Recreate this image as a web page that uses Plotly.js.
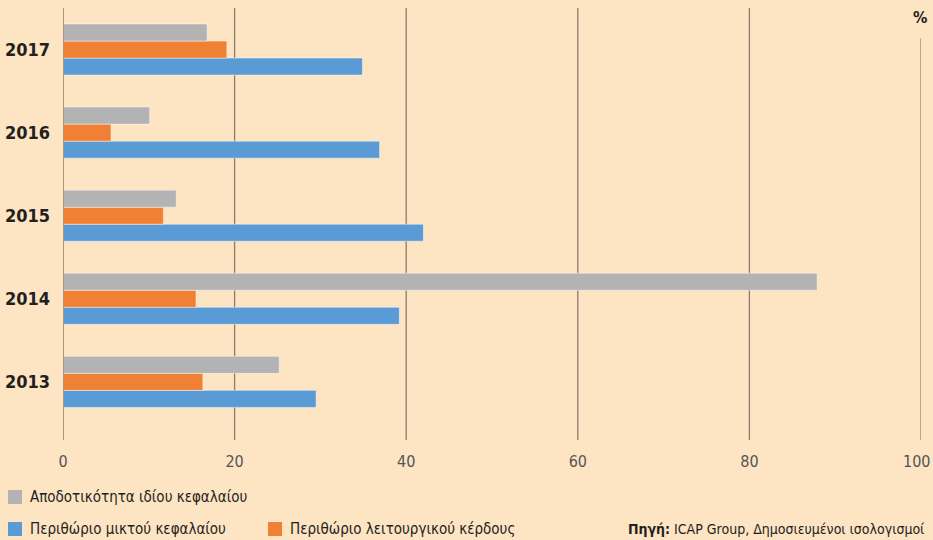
<!DOCTYPE html>
<html>
<head>
<meta charset="utf-8">
<script src="https://cdn.plot.ly/plotly-3.0.1.min.js"></script>
<style>
html,body{margin:0;padding:0;background:#fde4c3;}
#chart{width:933px;height:540px;}
</style>
</head>
<body>
<div id="chart"></div>
<script>
var years = ["2013", "2014", "2015", "2016", "2017"];
var seriesNames = ["Αποδοτικότητα ιδίου κεφαλαίου", "Περιθώριο μικτού κεφαλαίου", "Περιθώριο λειτουργικού κέρδους"];
var roe = [25.2, 87.9, 13.2, 10.1, 16.8];          // grey
var grossMargin = [29.5, 39.2, 42.0, 36.9, 34.9];  // blue
var opMargin = [16.3, 15.5, 11.7, 5.6, 19.1];      // orange
var xTicks = [0, 20, 40, 60, 80, 100];
var sourceLabel = "Πηγή:";
var sourceText = " ICAP Group, Δημοσιευμένοι ισολογισμοί";

var cGrey = "#b3b3b3", cBlue = "#5b9bd5", cOrange = "#ef8034";
var bg = "#fde4c3";
var FONT = "'DejaVu Sans Condensed', 'Liberation Sans Narrow', sans-serif";

function bar(vals, color, name) {
  return {
    type: "bar", orientation: "h", x: vals, y: years, name: name,
    marker: {color: color, line: {color: "rgba(255,255,255,0.45)", width: 1}},
    hoverinfo: "x+name", showlegend: false
  };
}
// first trace drawn at bottom of each group
var data = [
  bar(grossMargin, cBlue, seriesNames[1]),
  bar(opMargin, cOrange, seriesNames[2]),
  bar(roe, cGrey, seriesNames[0])
];

var lastTick = xTicks[xTicks.length - 1];
var shapes = [];
xTicks.forEach(function (v) {
  if (v === 0) return;
  if (v === lastTick) {
    shapes.push({type: "line", xref: "x", yref: "paper", x0: v, x1: v, y0: 0, y1: 0.93,
      line: {color: "#b9a48d", width: 2}, layer: "below"});
  } else {
    shapes.push({type: "line", xref: "x", yref: "paper", x0: v, x1: v, y0: 0, y1: 1,
      line: {color: "#8b7c6f", width: 1.3}, layer: "below"});
  }
});
shapes.push({type: "line", xref: "x", yref: "paper", x0: 0, x1: 0, y0: 0, y1: 1,
  line: {color: "#ae9478", width: 2}, layer: "above"});

// legend swatches
var legendItems = [
  {name: seriesNames[0], color: cGrey, x: 8, y: 497},
  {name: seriesNames[1], color: cBlue, x: 8, y: 529},
  {name: seriesNames[2], color: cOrange, x: 268, y: 529}
];
var annotations = [];
legendItems.forEach(function (it) {
  shapes.push({type: "rect", xref: "paper", yref: "paper",
    x0: (it.x - 63) / 858, x1: (it.x + 14 - 63) / 858,
    y0: (440 - (it.y + 7)) / 432, y1: (440 - (it.y - 7)) / 432,
    fillcolor: it.color, line: {width: 0}});
  annotations.push({xref: "paper", yref: "paper", x: (it.x + 20 - 63) / 858, y: (440 - it.y) / 432,
    xanchor: "left", yanchor: "middle", showarrow: false, text: it.name,
    font: {family: FONT, size: 15, color: "#231f20"}});
});
annotations.push({xref: "paper", yref: "paper", x: (626 - 63) / 858, y: (440 - 529) / 432,
  xanchor: "left", yanchor: "middle", showarrow: false,
  text: "<b>" + sourceLabel + "</b>" + sourceText,
  font: {family: FONT, size: 14, color: "#231f20"}});
annotations.push({xref: "paper", yref: "paper", x: (920 - 63) / 858, y: (440 - 18) / 432,
  xanchor: "center", yanchor: "middle", showarrow: false, text: "<b>%</b>",
  font: {family: FONT, size: 16, color: "#231f20"}});
// last tick label placed flush with the right edge so it is not clipped
annotations.push({xref: "paper", yref: "paper", x: (932 - 63) / 858, y: (440 - 461) / 432,
  xanchor: "right", yanchor: "middle", showarrow: false, text: String(lastTick),
  font: {family: FONT, size: 16, color: "#555555"}});

var axisTicks = xTicks.slice(0, xTicks.length - 1);

var layout = {
  width: 933, height: 540,
  paper_bgcolor: bg, plot_bgcolor: bg,
  margin: {l: 63, r: 12, t: 8, b: 100},
  barmode: "group", bargap: 0.385, bargroupgap: 0,
  xaxis: {range: [0, lastTick], tickvals: axisTicks, ticktext: axisTicks.map(String),
    showgrid: false, zeroline: false, showline: false, ticks: "",
    ticklabelstandoff: 10,
    tickfont: {family: FONT, size: 16, color: "#555555"}, fixedrange: true},
  yaxis: {type: "category", categoryorder: "array", categoryarray: years,
    range: [-0.7, 4.5], showgrid: false, zeroline: false, showline: false, ticks: "",
    ticklabelstandoff: 12,
    tickfont: {family: FONT, size: 18, color: "#231f20", weight: "bold"}, fixedrange: true},
  shapes: shapes, annotations: annotations,
  showlegend: false
};
Plotly.newPlot("chart", data, layout, {displayModeBar: false, staticPlot: true});
</script>
</body>
</html>
